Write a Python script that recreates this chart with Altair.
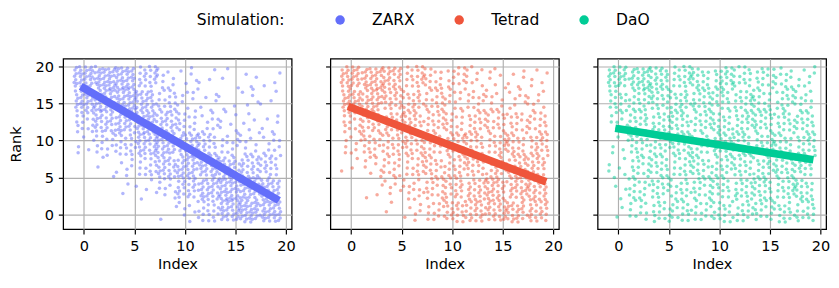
import altair as alt
import pandas as pd

# ---------------- data ----------------
series = ["ZARX", "Tetrad", "DaO"]
colors = ["#636EFA", "#EF553B", "#00CC96"]

# density grid (cells) used to lay out the scatter clouds
x_edges = [-1.0, 1.05, 3.1, 5.15, 7.2, 9.25, 11.3, 13.35, 15.4, 17.45, 19.5]
y_edges_top_down = [20, 17, 14, 11, 8, 5, 2, -1]

# number of points per cell, rows from the top band (17-20) to the bottom band (-1-2)
zarx_counts = [
    [33, 38, 33, 21, 9, 5, 3, 3, 3, 3],
    [30, 33, 33, 27, 15, 8, 5, 3, 5, 3],
    [15, 24, 30, 30, 24, 15, 9, 6, 5, 5],
    [5, 12, 18, 27, 30, 27, 18, 12, 9, 9],
    [0, 3, 6, 15, 23, 30, 30, 24, 21, 18],
    [0, 0, 2, 5, 9, 21, 30, 33, 33, 30],
    [0, 0, 0, 0, 2, 6, 18, 30, 36, 33],
]
tetrad_counts = [
    [27, 30, 24, 18, 15, 12, 9, 6, 5, 5],
    [27, 27, 21, 18, 15, 12, 12, 9, 8, 8],
    [15, 18, 18, 18, 17, 15, 15, 15, 15, 14],
    [9, 15, 18, 18, 17, 18, 17, 18, 18, 18],
    [3, 8, 12, 15, 15, 18, 18, 18, 20, 20],
    [0, 3, 6, 12, 15, 18, 21, 23, 24, 23],
    [0, 0, 2, 6, 12, 18, 23, 24, 24, 21],
]
dao_counts = [
    [24, 27, 21, 18, 18, 18, 15, 15, 11, 8],
    [15, 18, 18, 18, 17, 17, 17, 15, 14, 12],
    [9, 17, 17, 17, 17, 17, 17, 17, 17, 15],
    [6, 15, 17, 17, 17, 17, 17, 17, 17, 17],
    [6, 15, 15, 15, 15, 17, 17, 17, 18, 18],
    [3, 14, 15, 15, 15, 15, 17, 17, 18, 18],
    [2, 11, 14, 14, 14, 14, 15, 15, 15, 15],
]

# trend lines (start / end) per simulation
line_x = [-0.3, 19.3]
zarx_line_y = [17.3, 1.9]
tetrad_line_y = [14.6, 4.4]
dao_line_y = [11.65, 7.4]

x_ticks = [0, 5, 10, 15, 20]
y_ticks = [0, 5, 10, 15, 20]
x_domain = [-2.04, 20.56]
y_domain = [-1.97, 21.04]

FS = 15
LFS = 16


def cloud(name, counts):
    rows = []
    for r, row in enumerate(counts):
        y_hi, y_lo = y_edges_top_down[r], y_edges_top_down[r + 1]
        for c, n in enumerate(row):
            x_lo, x_hi = x_edges[c], x_edges[c + 1]
            s1 = ((r * 10 + c) * 0.3819660113) % 1
            s2 = ((r * 10 + c) * 0.6180339887) % 1
            for i in range(n):
                u = (s1 + (i + 1) * 0.7548776662) % 1
                v = (s2 + (i + 1) * 0.5698402910) % 1
                rows.append({"Index": x_lo + u * (x_hi - x_lo),
                             "Rank": y_lo + v * (y_hi - y_lo),
                             "Simulation": name})
    return pd.DataFrame(rows)


color_scale = alt.Scale(domain=series, range=colors)
legend = alt.Legend(
    title="Simulation:", orient="none", legendX=138, legendY=-48,
    direction="horizontal", titleOrient="left", titleFontSize=LFS,
    titleFontWeight="normal", titleFont="DejaVu Sans", titleColor="black",
    titlePadding=49, labelFontSize=LFS, labelFont="DejaVu Sans", labelColor="black",
    symbolType="circle", symbolSize=95, symbolOpacity=1, symbolStrokeWidth=0,
    labelOffset=25, columnPadding=38, gridAlign="each",
)


def panel(name, counts, ly, first):
    pts = cloud(name, counts)
    ln = pd.DataFrame({"Index": line_x, "Rank": ly, "Simulation": [name, name]})
    xenc = alt.X("Index:Q", title="Index",
                 scale=alt.Scale(domain=x_domain, nice=False, zero=False),
                 axis=alt.Axis(values=x_ticks, format="d"))
    if first:
        yaxis = alt.Axis(values=y_ticks, format="d", title="Rank", titlePadding=12)
    else:
        yaxis = alt.Axis(values=y_ticks, labels=False, title=None)
    yenc = alt.Y("Rank:Q", scale=alt.Scale(domain=y_domain, nice=False, zero=False), axis=yaxis)
    p = alt.Chart(pts).mark_point(shape="circle", filled=True, size=13, opacity=0.5).encode(
        x=xenc, y=yenc,
        color=alt.Color("Simulation:N", scale=color_scale, legend=legend),
    )
    l = alt.Chart(ln).mark_line(strokeWidth=8, strokeCap="butt").encode(
        x=xenc, y=yenc,
        color=alt.Color("Simulation:N", scale=color_scale, legend=None),
    )
    return alt.layer(p, l).properties(width=236, height=176)


chart = alt.hconcat(
    panel("ZARX", zarx_counts, zarx_line_y, True),
    panel("Tetrad", tetrad_counts, tetrad_line_y, False),
    panel("DaO", dao_counts, dao_line_y, False),
    spacing=28,
).properties(
    padding={"left": 0, "top": 0, "right": 0, "bottom": 0},
    background="white",
).configure_view(
    stroke="black", strokeWidth=1.3,
).configure_axis(
    grid=True, gridColor="#b0b0b0", gridWidth=1.2, domain=False,
    tickColor="black", tickSize=5, tickWidth=1.2,
    labelFont="DejaVu Sans", labelFontSize=FS, labelColor="black",
    titleFont="DejaVu Sans", titleFontSize=FS, titleFontWeight="normal", titleColor="black",
).configure_axisX(
    labelPadding=5, titlePadding=4,
).configure_axisY(
    labelPadding=5,
)

chart.save("out.html", embed_options={"renderer": "svg", "actions": False})
